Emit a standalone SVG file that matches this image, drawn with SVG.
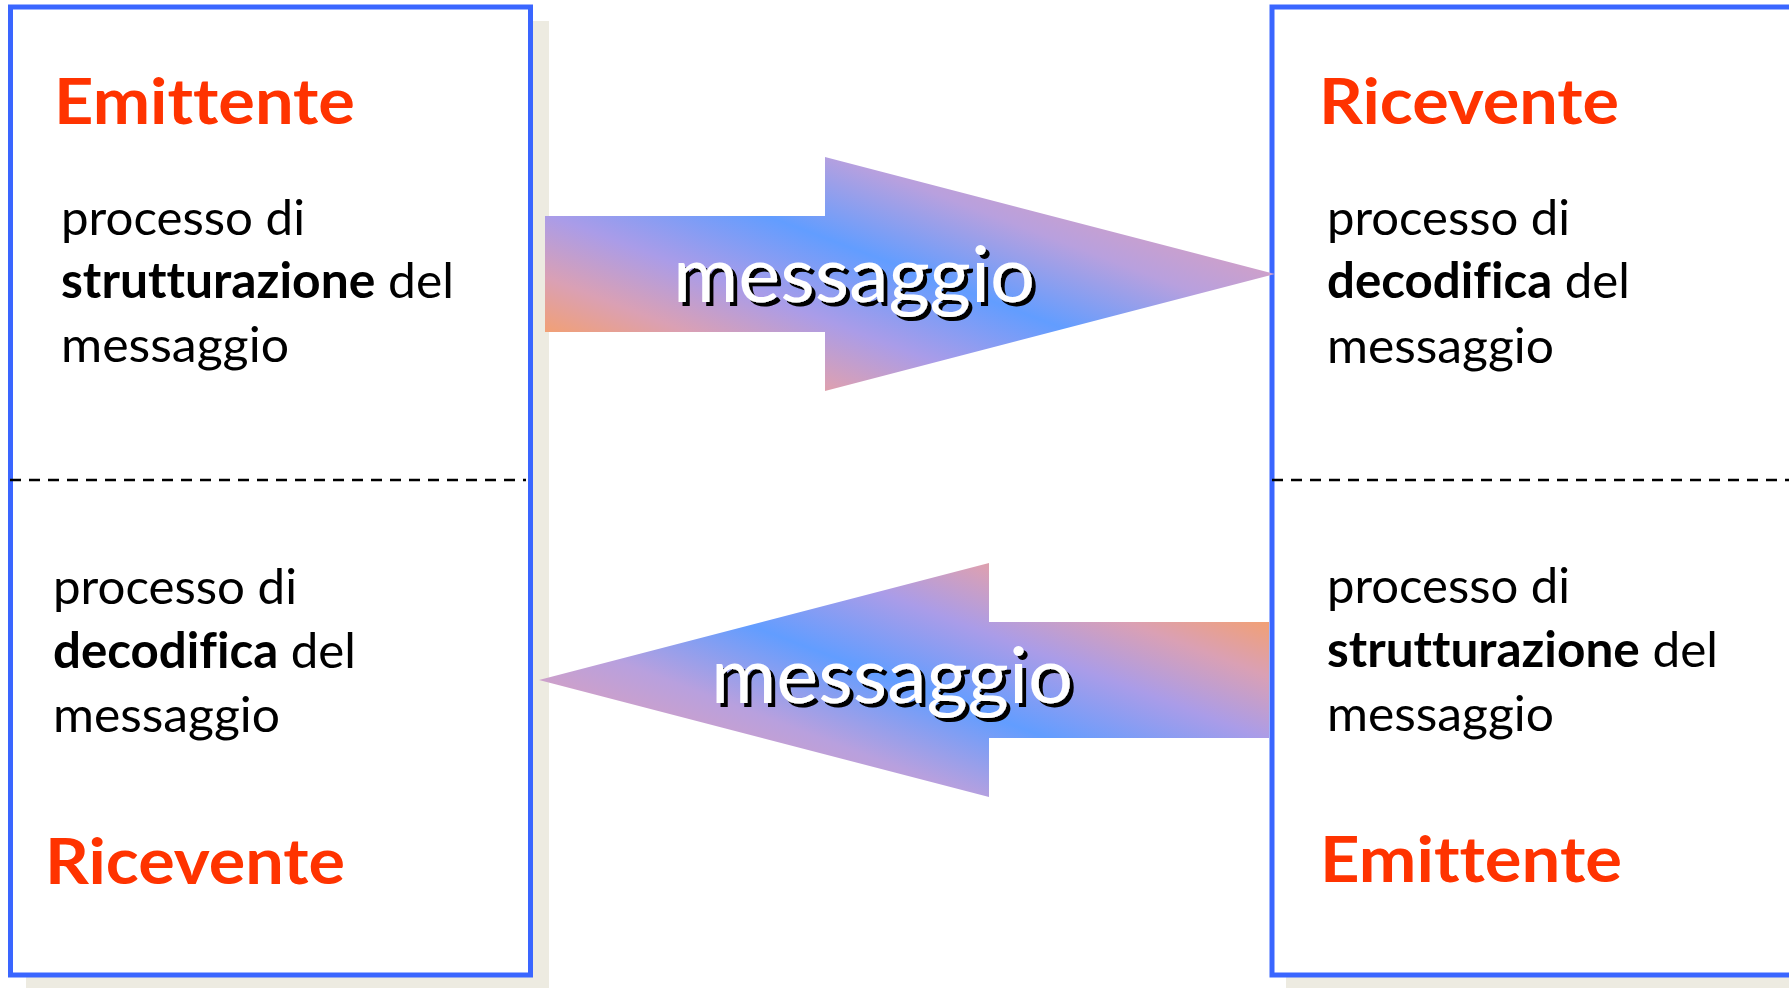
<svg xmlns="http://www.w3.org/2000/svg" width="1789" height="988" viewBox="0 0 1789 988">
  <defs>
    <linearGradient id="arrowGrad" gradientUnits="userSpaceOnUse" x1="314" y1="-184" x2="190" y2="143">
      <stop offset="0" stop-color="#D8A0C0"/>
      <stop offset="0.2" stop-color="#B8A0DE"/>
      <stop offset="0.43" stop-color="#629DFF"/>
      <stop offset="0.65" stop-color="#AA9CE8"/>
      <stop offset="0.82" stop-color="#DAA0B4"/>
      <stop offset="1" stop-color="#F7A066"/>
    </linearGradient>
    <path id="arrowShape" d="M0,-58 H280 V-117 L730,0 L280,117 V58 H0 Z"/>
    <filter id="textShadow" x="-10%" y="-20%" width="130%" height="150%">
      <feOffset in="SourceAlpha" dx="4" dy="4" result="off"/>
      <feFlood flood-color="#000000"/>
      <feComposite in2="off" operator="in" result="shadow"/>
      <feMerge>
        <feMergeNode in="shadow"/>
        <feMergeNode in="SourceGraphic"/>
      </feMerge>
    </filter>
  </defs>
  <style>
    text, tspan { font-variant-ligatures: none; font-feature-settings: "liga" 0, "clig" 0, "dlig" 0; }
    .shadow { fill: #EDEBE1; }
    .box { fill: #FFFFFF; stroke: #3A66FF; stroke-width: 5; }
    .divider { stroke: #000000; stroke-width: 2.5; stroke-dasharray: 11 8; fill: none; }
    .title { font-family: Lato, "Liberation Sans", sans-serif; font-weight: bold; font-size: 64px; fill: #FF3300; }
    .body { font-family: Lato, "Liberation Sans", sans-serif; font-size: 49px; fill: #000000; }
    .b { font-weight: bold; }
    .arrowText { font-family: Lato, "Liberation Sans", sans-serif; font-size: 78px; fill: #FFFFFF; filter: url(#textShadow); }
  </style>
  <rect width="1789" height="988" fill="#FFFFFF"/>

  <g id="left-box">
    <rect class="shadow" x="26" y="21" width="523" height="968"/>
    <rect class="box" x="10.5" y="7" width="520" height="968"/>
    <line class="divider" x1="10" y1="480" x2="526" y2="480"/>
    <text class="title" x="54" y="124" textLength="301" lengthAdjust="spacingAndGlyphs">Emittente</text>
    <text class="body" x="61" y="235" textLength="244" lengthAdjust="spacingAndGlyphs">processo di</text>
    <text class="body" x="61" y="298" textLength="393" lengthAdjust="spacingAndGlyphs"><tspan class="b">strutturazione</tspan> del</text>
    <text class="body" x="61" y="362" textLength="228" lengthAdjust="spacingAndGlyphs">messaggio</text>
    <text class="body" x="53" y="604" textLength="244" lengthAdjust="spacingAndGlyphs">processo di</text>
    <text class="body" x="53" y="668" textLength="303" lengthAdjust="spacingAndGlyphs"><tspan class="b">decodifica</tspan> del</text>
    <text class="body" x="53" y="732" textLength="227" lengthAdjust="spacingAndGlyphs">messaggio</text>
    <text class="title" x="45" y="884" textLength="300" lengthAdjust="spacingAndGlyphs">Ricevente</text>
  </g>

  <g id="right-box">
    <rect class="shadow" x="1286" y="21" width="520" height="968"/>
    <rect class="box" x="1272" y="7" width="530" height="968"/>
    <line class="divider" x1="1272" y1="480" x2="1789" y2="480"/>
    <text class="title" x="1319" y="124" textLength="300" lengthAdjust="spacingAndGlyphs">Ricevente</text>
    <text class="body" x="1327" y="235" textLength="243" lengthAdjust="spacingAndGlyphs">processo di</text>
    <text class="body" x="1327" y="298" textLength="303" lengthAdjust="spacingAndGlyphs"><tspan class="b">decodifica</tspan> del</text>
    <text class="body" x="1327" y="363" textLength="227" lengthAdjust="spacingAndGlyphs">messaggio</text>
    <text class="body" x="1327" y="603" textLength="243" lengthAdjust="spacingAndGlyphs">processo di</text>
    <text class="body" x="1327" y="667" textLength="391" lengthAdjust="spacingAndGlyphs"><tspan class="b">strutturazione</tspan> del</text>
    <text class="body" x="1327" y="731" textLength="227" lengthAdjust="spacingAndGlyphs">messaggio</text>
    <text class="title" x="1320" y="882" textLength="302" lengthAdjust="spacingAndGlyphs">Emittente</text>
  </g>

  <g id="connectors">
    <g id="arrow-forward">
      <use href="#arrowShape" transform="translate(545,274)" fill="url(#arrowGrad)"/>
      <text class="arrowText" x="673" y="302" textLength="362" lengthAdjust="spacingAndGlyphs">messaggio</text>
    </g>
    <g id="arrow-back">
      <use href="#arrowShape" transform="translate(1269,680) rotate(180)" fill="url(#arrowGrad)"/>
      <text class="arrowText" x="711" y="703" textLength="362" lengthAdjust="spacingAndGlyphs">messaggio</text>
    </g>
  </g>
</svg>
